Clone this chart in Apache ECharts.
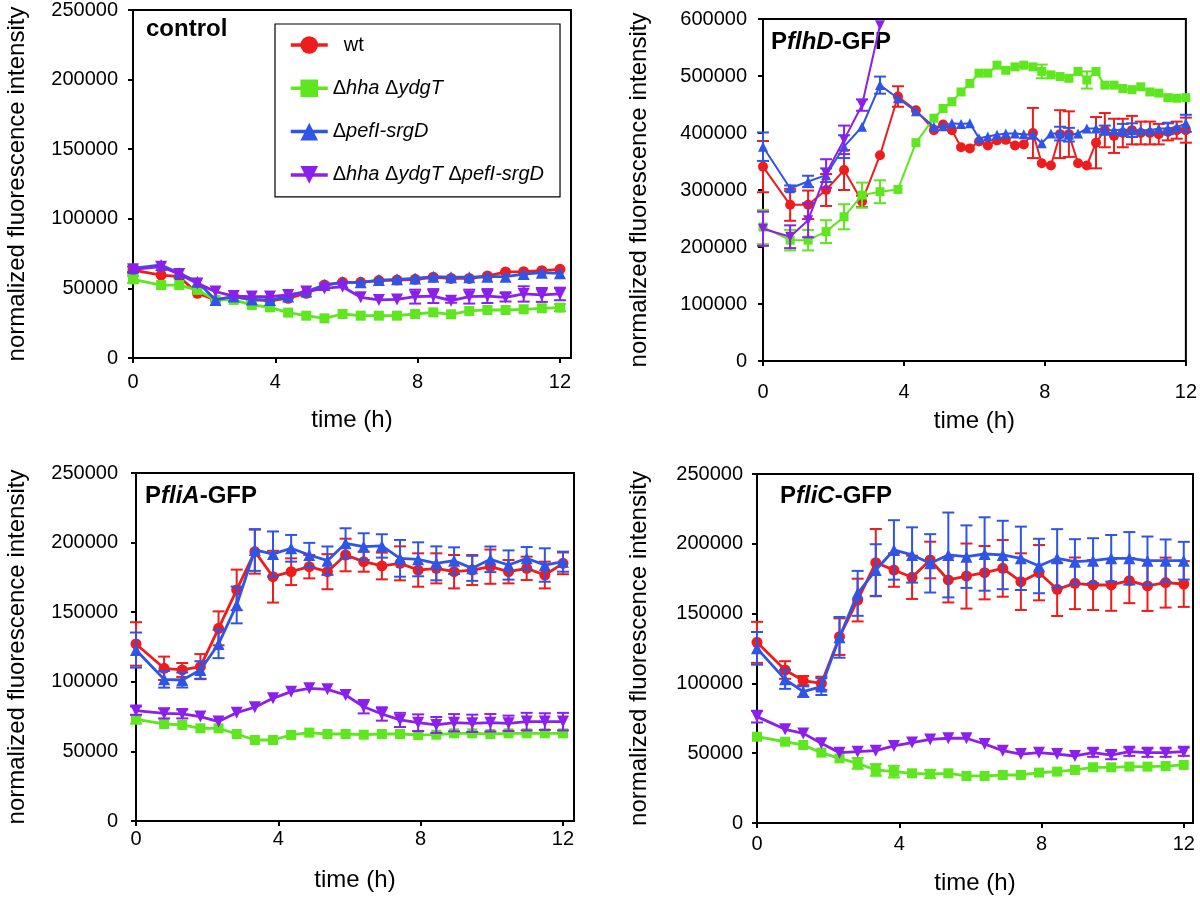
<!DOCTYPE html>
<html><head><meta charset="utf-8">
<script src="https://cdn.jsdelivr.net/npm/echarts@6/dist/echarts.min.js"></script>
<style>html,body{margin:0;padding:0;background:#fff}#c{width:1200px;height:899px}</style>
</head><body><div id="c"></div>
<script>
// ---------- categories / labels ----------
const SERIES_NAMES = ['wt', 'Δhha ΔydgT', 'ΔpefI-srgD', 'Δhha ΔydgT ΔpefI-srgD'];
const X_TICKS = [0, 4, 8, 12];
const X_NAME = 'time (h)';
const Y_NAME = 'normalized fluorescence intensity';

// time points (h)
const T = [0, 0.79, 1.3, 1.81, 2.32, 2.83, 3.34, 3.85, 4.36, 4.87, 5.38, 5.89, 6.4, 6.91, 7.42, 7.93, 8.44, 8.94, 9.45, 9.96, 10.47, 10.98, 11.49, 12];
const T2 = [0, 0.77, 1.28, 1.79, 2.3, 2.81, 3.32, 3.83, 4.34, 4.85, 5.11, 5.36, 5.62, 5.87, 6.13, 6.38, 6.64, 6.89, 7.15, 7.4, 7.66, 7.91, 8.17, 8.43, 8.68, 8.94, 9.19, 9.45, 9.7, 9.96, 10.21, 10.47, 10.72, 10.98, 11.23, 11.49, 11.74, 12];

// ---------- control ----------
const ctrlWt = [63200, 59600, 58400, 46500, 41700, 44100, 41700, 41200, 42900, 46500, 52400, 54400, 54400, 55600, 56000, 56500, 58000, 57200, 57200, 58900, 61800, 62000, 62700, 63700];
const ctrlHha = [56500, 52400, 52400, 48900, 41700, 41700, 38100, 36400, 32600, 30400, 28500, 31600, 30400, 30400, 30400, 31600, 32800, 31400, 33800, 34500, 34500, 35000, 35700, 36200];
const ctrlPef = [64400, 66800, 60800, 54800, 41700, 44100, 42100, 41700, 44100, 47700, 52400, 54400, 54400, 56000, 56500, 57200, 58400, 58000, 58000, 58400, 58400, 60300, 61300, 60800];
const ctrlTriple = [63700, 65600, 60300, 53600, 47700, 44500, 44100, 44100, 45300, 47700, 50000, 51200, 43600, 41700, 42100, 44100, 44500, 41200, 44100, 44500, 43600, 46000, 45300, 46000];
const ctrlWtErr = [0, 0, 0, 0, 0, 0, 0, 0, 0, 0, 0, 0, 0, 0, 0, 0, 0, 0, 0, 0, 0, 0, 0, 0];
const ctrlHhaErr = [2500, 0, 0, 0, 0, 0, 0, 0, 0, 0, 0, 0, 0, 0, 0, 0, 0, 0, 0, 0, 0, 0, 0, 2500];
const ctrlPefErr = [0, 0, 0, 0, 0, 0, 0, 0, 0, 0, 0, 0, 0, 0, 0, 0, 0, 0, 0, 0, 0, 0, 0, 0];
const ctrlTripleErr = [2000, 0, 0, 0, 0, 0, 0, 0, 0, 0, 0, 0, 0, 0, 0, 5000, 5000, 1500, 5000, 5000, 3000, 5500, 5000, 4500];

// ---------- PflhD-GFP ----------
const flhdWt = [341000, 274000, 274000, 300000, 335000, 280000, 361000, 464000, 440000, 405000, 415000, 405000, 375000, 373000, 385000, 378000, 387000, 388000, 378000, 380000, 400000, 347000, 343000, 398000, 398000, 347000, 343000, 383000, 405000, 395000, 400000, 405000, 400000, 400000, 398000, 402000, 405000, 405000];
const flhdHha = [235000, 212000, 212000, 227000, 253000, 291000, 297000, 301000, 383000, 426000, 443000, 455000, 472000, 487000, 505000, 505000, 519000, 510000, 516000, 519000, 516000, 508000, 502000, 499000, 496000, 508000, 493000, 508000, 484000, 484000, 478000, 476000, 481000, 472000, 470000, 462000, 461000, 462000];
const flhdPef = [376000, 303000, 315000, 326000, 376000, 411000, 484000, 461000, 438000, 411000, 412000, 417000, 416000, 417000, 391000, 394000, 397000, 399000, 399000, 398000, 397000, 382000, 399000, 399000, 397000, 399000, 408000, 408000, 405000, 405000, 406000, 405000, 405000, 405000, 408000, 408000, 410000, 417000];
const flhdTriple = [232000, 218000, 247000, 329000, 388000, 449000, 589000];
const flhdWtErr = [45000, 28000, 25000, 28000, 35000, 10000, 0, 18000, 0, 0, 0, 0, 0, 0, 0, 0, 0, 0, 0, 0, 44000, 0, 0, 42000, 40000, 0, 0, 45000, 30000, 30000, 25000, 25000, 20000, 20000, 18000, 15000, 15000, 22000];
const flhdHhaErr = [30000, 18000, 18000, 20000, 22000, 22000, 20000, 0, 0, 0, 0, 0, 0, 0, 0, 0, 0, 0, 0, 0, 0, 12000, 0, 0, 0, 0, 15000, 0, 0, 0, 0, 0, 0, 0, 0, 0, 0, 0];
const flhdPefErr = [25000, 5000, 10000, 12000, 20000, 0, 15000, 0, 0, 0, 0, 0, 0, 0, 0, 0, 0, 0, 0, 0, 0, 0, 0, 12000, 12000, 0, 0, 0, 8000, 0, 10000, 12000, 0, 0, 0, 10000, 0, 15000];
const flhdTripleErr = [30000, 20000, 30000, 25000, 25000, 10000, 0];

// ---------- PfliA-GFP ----------
const fliaWt = [127200, 109700, 108500, 110900, 138400, 166000, 193500, 175500, 179100, 182700, 179100, 191100, 186300, 183200, 185100, 180300, 181500, 179100, 180300, 182700, 179100, 181500, 176700, 185100];
const fliaHha = [73000, 69700, 69000, 66600, 66600, 62500, 58200, 58200, 61800, 63500, 62500, 62500, 62000, 62500, 62500, 61800, 62000, 63000, 63000, 62500, 63000, 63000, 63000, 63000];
const fliaPef = [122800, 101800, 101300, 108500, 127200, 155200, 194700, 191800, 195900, 191100, 187000, 199500, 197100, 197600, 188700, 188000, 185100, 187000, 181500, 188000, 183900, 188700, 183900, 186300];
const fliaTriple = [79300, 77300, 76900, 75000, 71400, 77800, 81700, 88100, 92900, 95300, 94600, 90500, 82100, 76900, 72600, 70600, 69000, 70600, 70200, 70600, 70200, 71400, 71400, 71400];
const fliaWtErr = [15600, 8400, 5000, 9000, 12200, 14600, 15800, 18600, 9600, 8400, 12600, 11700, 7200, 9600, 12200, 12000, 10800, 12000, 10800, 12300, 8400, 8400, 9600, 7800];
const fliaHhaErr = [3000, 0, 0, 0, 0, 0, 0, 0, 0, 0, 0, 0, 0, 0, 0, 0, 0, 0, 0, 0, 0, 0, 0, 0];
const fliaPefErr = [12600, 6000, 5400, 6300, 10200, 13200, 15000, 16200, 9600, 8700, 10200, 10800, 9600, 8400, 13200, 12200, 12200, 9600, 9000, 9200, 10500, 8100, 12000, 7200];
const fliaTripleErr = [3000, 3600, 3200, 0, 0, 0, 0, 0, 0, 0, 0, 0, 4800, 4800, 5100, 6000, 5700, 6200, 6200, 6300, 5500, 6300, 6000, 6300];

// ---------- PfliC-GFP ----------
const flicWt = [129400, 109600, 102000, 100000, 133500, 159700, 186500, 181200, 176000, 188400, 174100, 176900, 179300, 182400, 172900, 179300, 167400, 171700, 170500, 170500, 173600, 169800, 172200, 171200];
const flicHha = [61800, 58200, 55900, 50400, 46300, 42700, 38000, 36800, 35600, 35100, 35600, 33700, 33700, 34400, 34400, 36100, 36800, 38000, 39900, 39900, 40400, 40400, 40800, 41600];
const flicPef = [125100, 102900, 94100, 97700, 133000, 164500, 181200, 195600, 192000, 186000, 192000, 190800, 192700, 192000, 189600, 184100, 189600, 187200, 187900, 189600, 189600, 187900, 187900, 187900];
const flicTriple = [76200, 67100, 64200, 57100, 50400, 51100, 51800, 55200, 57600, 59900, 60700, 60700, 56600, 51800, 49400, 50400, 49400, 48000, 50400, 48700, 51100, 50400, 50400, 51100];
const flicWtErr = [14700, 6300, 3300, 4800, 13100, 15300, 24100, 12000, 15500, 13100, 16100, 23300, 19100, 20300, 20300, 19800, 19100, 18500, 17900, 18500, 16100, 17900, 17900, 16400];
const flicHhaErr = [0, 0, 0, 0, 0, 3900, 4200, 4200, 0, 3000, 0, 0, 0, 0, 0, 0, 0, 0, 0, 0, 0, 0, 0, 0];
const flicPefErr = [11700, 6800, 3800, 6000, 14600, 16100, 18500, 21300, 19800, 20900, 30400, 22400, 26300, 24500, 22700, 19500, 20900, 16100, 16100, 16700, 18800, 17300, 15200, 13500];
const flicTripleErr = [4200, 0, 0, 0, 0, 0, 0, 0, 0, 0, 0, 0, 0, 0, 0, 0, 0, 0, 3000, 3000, 3000, 3000, 3000, 3000];

// ---------- styling ----------
const COLORS = ['#ee1c1c', '#5ee61e', '#2f55e8', '#8b1fec'];
const SYMBOLS = ['circle', 'rect', 'triangle', 'triangle'];
const ROTATE = [0, 0, 0, 180];
const FONT = '"Liberation Sans", Arial, Helvetica, sans-serif';

const panels = [
  { t: [T, T, T, T], v: [ctrlWt, ctrlHha, ctrlPef, ctrlTriple], e: [ctrlWtErr, ctrlHhaErr, ctrlPefErr, ctrlTripleErr],
    grid: {left: 133, top: 10, width: 438, height: 348}, xmax: 12.31, ymax: 250000, yint: 50000,
    xMargin: 14, yMargin: 15, xGap: 50, yGap: 104, sym: [11, 10, 12, 12], lw: 2.8 },
  { t: [T2, T2, T2, T2], v: [flhdWt, flhdHha, flhdPef, flhdTriple], e: [flhdWtErr, flhdHhaErr, flhdPefErr, flhdTripleErr],
    grid: {left: 763, top: 19, width: 423, height: 342}, xmax: 12, ymax: 600000, yint: 100000,
    xMargin: 21, yMargin: 16, xGap: 48, yGap: 112, sym: [10, 9, 10, 10], lw: 2 },
  { t: [T, T, T, T], v: [fliaWt, fliaHha, fliaPef, fliaTriple], e: [fliaWtErr, fliaHhaErr, fliaPefErr, fliaTripleErr],
    grid: {left: 136, top: 473, width: 438, height: 348}, xmax: 12.31, ymax: 250000, yint: 50000,
    xMargin: 8, yMargin: 18, xGap: 47, yGap: 107, sym: [11, 10, 12, 12], lw: 2.8 },
  { t: [T, T, T, T], v: [flicWt, flicHha, flicPef, flicTriple], e: [flicWtErr, flicHhaErr, flicPefErr, flicTripleErr],
    grid: {left: 757, top: 474, width: 436, height: 349}, xmax: 12.26, ymax: 250000, yint: 50000,
    xMargin: 11, yMargin: 14, xGap: 48, yGap: 106, sym: [11, 10, 12, 12], lw: 2.8 }
];

const TITLES = [
  { text: '{b|control}', left: 146, top: 17 },
  { text: '{b|P}{bi|flhD}{b|-GFP}', left: 771, top: 30 },
  { text: '{b|P}{bi|fliA}{b|-GFP}', left: 145, top: 484 },
  { text: '{b|P}{bi|fliC}{b|-GFP}', left: 780, top: 484 }
];

function errItem(params, api) {
  const x = api.value(0), y = api.value(1), e = api.value(2);
  if (!e) return null;
  const a = api.coord([x, y + e]);
  const b = api.coord([x, y - e]);
  const hw = 6;
  const style = { stroke: api.visual('color'), lineWidth: 2 };
  return { type: 'group', children: [
    { type: 'line', shape: { x1: a[0], y1: a[1], x2: b[0], y2: b[1] }, style },
    { type: 'line', shape: { x1: a[0] - hw, y1: a[1], x2: a[0] + hw, y2: a[1] }, style },
    { type: 'line', shape: { x1: b[0] - hw, y1: b[1], x2: b[0] + hw, y2: b[1] }, style }
  ]};
}

const grids = [], xAxes = [], yAxes = [], series = [];
panels.forEach((p, k) => {
  grids.push(Object.assign({ show: true, borderColor: '#000', borderWidth: 2, containLabel: false }, p.grid));
  xAxes.push({
    type: 'value', gridIndex: k, min: 0, max: p.xmax, interval: 4,
    name: X_NAME, nameLocation: 'middle', nameGap: p.xGap,
    nameTextStyle: { fontSize: 24, color: '#000', fontFamily: FONT },
    axisLine: { show: true, lineStyle: { color: '#000', width: 2 } },
    axisTick: { show: true, length: 5, lineStyle: { color: '#000', width: 2 }, customValues: X_TICKS },
    axisLabel: { fontSize: 20, color: '#000', fontFamily: FONT, margin: p.xMargin, customValues: X_TICKS,
      formatter: v => String(v) },
    splitLine: { show: false }
  });
  yAxes.push({
    type: 'value', gridIndex: k, min: 0, max: p.ymax, interval: p.yint,
    name: Y_NAME, nameLocation: 'middle', nameGap: p.yGap,
    nameTextStyle: { fontSize: 24, color: '#000', fontFamily: FONT },
    axisLine: { show: true, lineStyle: { color: '#000', width: 2 } },
    axisTick: { show: true, length: 5, lineStyle: { color: '#000', width: 2 } },
    axisLabel: { fontSize: 20, color: '#000', fontFamily: FONT, margin: p.yMargin,
      formatter: v => String(v) },
    splitLine: { show: false }
  });
  for (let s = 0; s < 4; s++) {
    const ts = p.t[s], vs = p.v[s], es = p.e[s];
    series.push({
      type: 'line', name: SERIES_NAMES[s], xAxisIndex: k, yAxisIndex: k,
      data: vs.map((v, i) => [ts[i], v]),
      symbol: SYMBOLS[s], symbolSize: p.sym[s], symbolRotate: ROTATE[s], showAllSymbol: true,
      color: COLORS[s], itemStyle: { color: COLORS[s] },
      lineStyle: { color: COLORS[s], width: p.lw }, z: 3 + s, animation: false
    });
    series.push({
      type: 'custom', name: 'err' + k + s, xAxisIndex: k, yAxisIndex: k,
      renderItem: errItem, itemStyle: { color: COLORS[s] },
      encode: { x: 0, y: 1 },
      data: vs.map((v, i) => [ts[i], v, es[i]]), z: 3 + s, animation: false
    });
  }
});

const chart = echarts.init(document.getElementById('c'), null, { renderer: 'canvas' });
chart.setOption({
  backgroundColor: '#fff',
  animation: false,
  textStyle: { fontFamily: FONT },
  title: TITLES.map(t => ({
    text: t.text, left: t.left, top: t.top, padding: 0,
    textStyle: { rich: {
      b: { fontSize: 24, fontWeight: 'bold', color: '#000', fontFamily: FONT },
      bi: { fontSize: 24, fontWeight: 'bold', fontStyle: 'italic', color: '#000', fontFamily: FONT }
    } }
  })),
  legend: {
    data: SERIES_NAMES, orient: 'vertical', left: 275, top: 24,
    padding: [11, 16, 12, 14], itemGap: 23.3, itemWidth: 37, itemHeight: 22,
    borderColor: '#000', borderWidth: 1.2, backgroundColor: '#fff',
    selectedMode: false,
    lineStyle: { width: 3.5 },
    formatter: function (name) {
      return {
        'wt': '{n|  wt}',
        'Δhha ΔydgT': '{n|Δ}{i|hha} {n|Δ}{i|ydgT}',
        'ΔpefI-srgD': '{n|Δ}{i|pefI-srgD}',
        'Δhha ΔydgT ΔpefI-srgD': '{n|Δ}{i|hha} {n|Δ}{i|ydgT} {n|Δ}{i|pefI-srgD}'
      }[name];
    },
    textStyle: { fontSize: 20, color: '#000', fontFamily: FONT, lineHeight: 20,
      rich: {
        n: { fontSize: 20, color: '#000', fontFamily: FONT },
        i: { fontSize: 20, fontStyle: 'italic', color: '#000', fontFamily: FONT }
      } }
  },
  grid: grids, xAxis: xAxes, yAxis: yAxes, series: series
});
</script></body></html>
